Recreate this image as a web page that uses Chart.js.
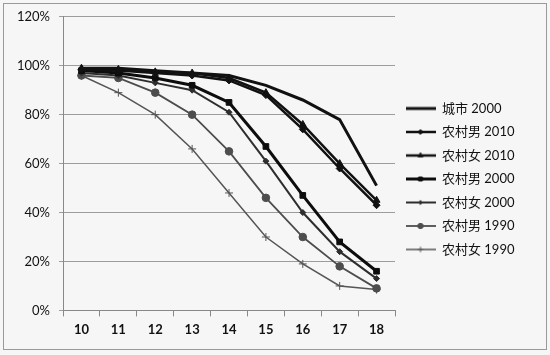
<!DOCTYPE html>
<html lang="zh">
<head>
    <meta charset="UTF-8">
    <title>农村/城市 比例</title>
    <script src="https://cdn.jsdelivr.net/npm/chart.js"></script>
    <style>
        body { margin: 0; background: #f6f6f6; }
        #wrap { position: relative; width: 550px; height: 355px; }
        #frame { position: absolute; left: 3px; top: 3px; width: 542px; height: 345px; border: 1px solid #9a9a9a; pointer-events: none; }
    </style>
</head>
<body>
    <div id="wrap">
        <canvas id="ageChart" width="550" height="355"></canvas>
        <div id="frame"></div>
    </div>

    <script>
        // ages on the x axis
        const ages = ['10', '11', '12', '13', '14', '15', '16', '17', '18'];
        const yTicks = [0, 20, 40, 60, 80, 100, 120];

        // series values (percent)
        const city2000 = [99, 99, 98, 97, 96, 92, 86, 78, 51];
        const ruralMale2010 = [98.5, 98, 97, 96, 94, 88, 74, 58, 43];
        const ruralFemale2010 = [99, 98.5, 97.5, 97, 95, 89, 76, 60, 45];
        const ruralMale2000 = [98, 97, 95, 92, 85, 67, 47, 28, 16];
        const ruralFemale2000 = [97, 96, 93, 90, 81, 61, 40, 24, 13];
        const ruralMale1990 = [96, 95, 89, 80, 65, 46, 30, 18, 9];
        const ruralFemale1990 = [96, 89, 80, 66, 48, 30, 19, 10, 8.5];

        const seriesLabels = ['城市 2000', '农村男 2010', '农村女 2010', '农村男 2000', '农村女 2000', '农村男 1990', '农村女 1990'];

        // little legend picture: a line with a small marker in the middle
        function legendIcon(color, width, style, radius) {
            const c = document.createElement('canvas');
            c.width = 30; c.height = 12;
            const g = c.getContext('2d');
            g.strokeStyle = color;
            g.fillStyle = color;
            g.lineWidth = width;
            g.beginPath();
            g.moveTo(0, 6); g.lineTo(30, 6);
            g.stroke();
            if (style) {
                g.lineWidth = 1;
                Chart.helpers.drawPoint(g, { pointStyle: style, radius: radius * 0.7, borderWidth: 1, rotation: 0 }, 15, 6);
            }
            return c;
        }

        function makeSet(label, data, color, width, style, radius) {
            return {
                label: label,
                data: data,
                borderColor: color,
                backgroundColor: color,
                borderWidth: width,
                pointStyle: style || 'circle',
                pointRadius: style ? radius : 0,
                pointBorderWidth: 1,
                pointBorderColor: color,
                pointBackgroundColor: color,
                tension: 0,
                fill: false,
                icon: legendIcon(color, width, style, radius)
            };
        }

        const datasets = [
            makeSet(seriesLabels[0], city2000, '#111', 3, null, 0),
            makeSet(seriesLabels[1], ruralMale2010, '#111', 2.5, 'rectRot', 3.5),
            makeSet(seriesLabels[2], ruralFemale2010, '#111', 2.5, 'triangle', 4),
            makeSet(seriesLabels[3], ruralMale2000, '#0d0d0d', 3, 'rect', 4),
            makeSet(seriesLabels[4], ruralFemale2000, '#2e2e2e', 2, 'rectRot', 3),
            makeSet(seriesLabels[5], ruralMale1990, '#4d4d4d', 1.8, 'circle', 3.8),
            makeSet(seriesLabels[6], ruralFemale1990, '#555', 1.5, 'cross', 4)
        ];

        const ctx = document.getElementById('ageChart').getContext('2d');
        const myChart = new Chart(ctx, {
            type: 'line',
            data: { labels: ages, datasets: datasets },
            options: {
                responsive: false,
                animation: false,
                layout: { padding: { left: 8, right: 26, top: 14, bottom: 11 } },
                plugins: {
                    tooltip: { enabled: false },
                    legend: {
                        position: 'right',
                        labels: {
                            usePointStyle: true,
                            pointStyleWidth: 30,
                            padding: 10.5,
                            color: '#111',
                            font: { family: 'Lato, "Noto Sans CJK SC"', size: 13 },
                            generateLabels(chart) {
                                return chart.data.datasets.map((ds, i) => ({
                                    text: ds.label,
                                    pointStyle: ds.icon,
                                    fillStyle: ds.borderColor,
                                    strokeStyle: ds.borderColor,
                                    lineWidth: 0,
                                    hidden: false,
                                    datasetIndex: i,
                                    fontColor: '#111'
                                }));
                            }
                        }
                    }
                },
                scales: {
                    x: {
                        offset: true,
                        grid: { display: true, drawOnChartArea: false, color: '#888', tickLength: 6, offset: true },
                        border: { color: '#888' },
                        ticks: { color: '#111', padding: 6, font: { family: 'Lato', size: 13, weight: 'bold' } }
                    },
                    y: {
                        min: 0,
                        max: 120,
                        afterBuildTicks(axis) { axis.ticks = yTicks.map(v => ({ value: v })); },
                        grid: { color: '#9c9c9c', tickLength: 4 },
                        border: { color: '#888' },
                        ticks: {
                            color: '#111',
                            padding: 9,
                            font: { family: 'Lato', size: 13 },
                            callback: v => v + '%'
                        }
                    }
                }
            }
        });
    </script>
</body>
</html>
